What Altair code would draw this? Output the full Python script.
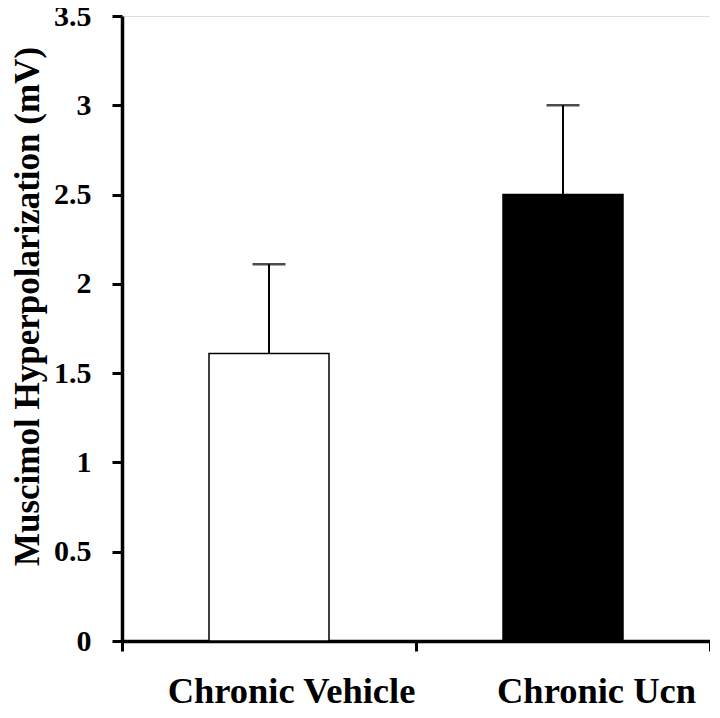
import altair as alt
import pandas as pd

categories = ["Chronic Vehicle", "Chronic Ucn"]
means = [1.61, 2.50]
sem = [0.50, 0.50]

df = pd.DataFrame({
    "group": categories,
    "mean": means,
    "upper": [m + s for m, s in zip(means, sem)],
})

FONT = "Liberation Serif"
W, H = 588, 625

xenc = alt.X(
    "group:N",
    sort=categories,
    scale=alt.Scale(paddingInner=0, paddingOuter=0),
    axis=alt.Axis(
        title=None,
        tickBand="extent",
        labelAngle=0,
        labelFont=FONT,
        labelFontSize=36.5,
        labelFontWeight="bold",
        labelColor="black",
        labelBaseline="alphabetic",
        labelPadding=51,
        labelOffset=alt.condition("datum.value == 'Chronic Ucn'", alt.value(33), alt.value(22)),
        labelLimit=1000,
        domainColor="black",
        domainWidth=3.5,
        tickColor="black",
        tickWidth=3,
        tickSize=10,
    ),
)

yscale = alt.Scale(domain=[0, 3.5], nice=False)
yaxis = alt.Axis(
    title="Muscimol Hyperpolarization (mV)",
    values=[0, 0.5, 1, 1.5, 2, 2.5, 3, 3.5],
    format="~g",
    grid=False,
    labelFont=FONT,
    labelFontSize=30,
    labelFontWeight="bold",
    labelColor="black",
    labelPadding=21,
    tickSize=10,
    tickWidth=3,
    tickColor="black",
    domainColor="black",
    domainWidth=3.5,
    titleFont=FONT,
    titleFontSize=35,
    titleFontWeight="bold",
    titleColor="black",
    titleAngle=270,
    titleBaseline="alphabetic",
    titleAlign="center",
    titleX=-84,
    titleY=290,
    titleLimit=1000,
)

base = alt.Chart(df)

bars = base.mark_bar(size=120, stroke="black", strokeWidth=1.5).encode(
    x=xenc,
    y=alt.Y("mean:Q", scale=yscale, axis=yaxis),
    fill=alt.Fill("group:N", sort=categories,
                  scale=alt.Scale(domain=categories, range=["white", "black"]),
                  legend=None),
)

err = base.mark_rule(color="black", strokeWidth=2).encode(
    x=alt.X("group:N", sort=categories),
    y=alt.Y("mean:Q"),
    y2="upper:Q",
)

caps = base.mark_tick(color="black", size=33, thickness=2.5).encode(
    x=alt.X("group:N", sort=categories),
    y=alt.Y("upper:Q"),
)

chart = alt.layer(bars, err, caps).properties(
    width=W,
    height=H,
    padding={"left": 114, "top": 8, "right": 0, "bottom": 69},
    autosize=alt.AutoSizeParams(type="none"),
).configure_view(stroke=None).configure(background="white")

chart.save("out.html", embed_options={"renderer": "svg", "actions": False})
